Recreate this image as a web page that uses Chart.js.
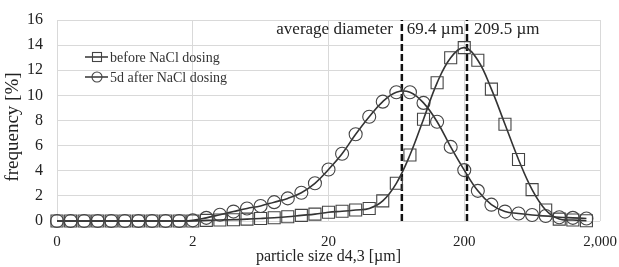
<!DOCTYPE html>
<html>
<head>
<meta charset="utf-8">
<script src="https://cdn.jsdelivr.net/npm/chart.js@4/dist/chart.umd.min.js"></script>
<style>
  html, body { margin: 0; padding: 0; background: #fff; }
  #wrap { width: 619px; height: 267px; position: relative; }
</style>
</head>
<body>
<div id="wrap"><canvas id="chart"></canvas></div>
<script>
// particle sizes (µm), 10 log steps per decade starting at 0.2
const sizes = [
  0.2, 0.252, 0.317, 0.399, 0.502, 0.632, 0.796, 1.002, 1.262, 1.589,
  2.0, 2.518, 3.17, 3.99, 5.02, 6.32, 7.96, 10.02, 12.62, 15.89,
  20.0, 25.18, 31.7, 39.9, 50.2, 63.2, 79.6, 100.2, 126.2, 158.9,
  200, 251.8, 317, 399, 502, 632, 796, 1002, 1262, 1589
];
const beforeDosing = [
  0, 0, 0, 0, 0, 0, 0, 0, 0, 0,
  0, 0.05, 0.08, 0.1, 0.15, 0.2, 0.26, 0.34, 0.45, 0.55,
  0.7, 0.78, 0.88, 1.0, 1.6, 3.0, 5.25, 8.1, 11.0, 13.0,
  13.8, 12.8, 10.5, 7.7, 4.9, 2.5, 0.88, 0.15, 0.08, 0.02
];
const afterDosing = [
  0, 0, 0, 0, 0, 0, 0, 0, 0, 0,
  0.05, 0.25, 0.5, 0.75, 1.0, 1.2, 1.5, 1.8, 2.25, 3.0,
  4.1, 5.35, 6.9, 8.3, 9.5, 10.25, 10.25, 9.4, 7.9, 5.9,
  4.05, 2.4, 1.3, 0.75, 0.6, 0.48, 0.4, 0.3, 0.25, 0.2
];
const seriesNames = ['before NaCl dosing', '5d after NaCl dosing'];
const avgDiameters = [69.4, 209.5];
const avgLabels = ['69.4 µm', '209.5 µm'];
const xTicks = [0.2, 2, 20, 200, 2000];
const xTickLabels = ['0', '2', '20', '200', '2,000'];

const INK = '#333';
const TEXT = '#222';
const SERIF = '"Liberation Serif", "DejaVu Serif", serif';

function toPoints(ys) {
  return sizes.map((x, i) => ({ x, y: ys[i] }));
}

function seriesStyle(marker, radius) {
  return {
    borderColor: INK,
    borderWidth: 1.6,
    backgroundColor: 'rgba(255,255,255,0)',
    pointStyle: marker,
    pointRadius: radius,
    pointBorderColor: '#444',
    pointBorderWidth: 1.1,
    pointBackgroundColor: 'rgba(255,255,255,0)',
    tension: 0.4,
    fill: false,
    clip: false,
  };
}

const datasets = [
  { label: seriesNames[0], data: toPoints(beforeDosing), ...seriesStyle('rect', 8.5) },
  { label: seriesNames[1], data: toPoints(afterDosing), ...seriesStyle('circle', 6.5) },
];
avgDiameters.forEach(d => {
  datasets.push({
    label: '',
    data: [{ x: d, y: 0 }, { x: d, y: 16 }],
    borderColor: '#111',
    borderWidth: 2.5,
    borderDash: [7, 3],
    pointRadius: 0,
    tension: 0,
    fill: false,
  });
});

// legend drawn inside the plot, the "average diameter" labels, y title
const overlay = {
  id: 'overlay',
  afterDatasetsDraw(chart) {
    const { ctx, scales: { x } } = chart;
    ctx.save();
    ctx.fillStyle = TEXT;
    ctx.textBaseline = 'middle';

    // average diameter labels
    ctx.font = '17px ' + SERIF;
    const x1 = x.getPixelForValue(avgDiameters[0]);
    const x2 = x.getPixelForValue(avgDiameters[1]);
    const ty = 30;
    ctx.textAlign = 'right';
    ctx.fillText('average diameter', x1 - 9, ty);
    ctx.textAlign = 'left';
    ctx.fillText(avgLabels[0], x1 + 5, ty);
    ctx.fillText(avgLabels[1], x2 + 7, ty);

    // legend
    ctx.font = '14px ' + SERIF;
    const markers = ['rect', 'circle'];
    [57, 77].forEach((ly, i) => {
      ctx.strokeStyle = INK;
      ctx.lineWidth = 1.5;
      ctx.beginPath();
      ctx.moveTo(85, ly);
      ctx.lineTo(108, ly);
      ctx.stroke();
      ctx.lineWidth = 1.1;
      ctx.strokeStyle = '#444';
      if (markers[i] === 'rect') {
        ctx.strokeRect(92.5, ly - 4.5, 9, 9);
      } else {
        ctx.beginPath();
        ctx.arc(97, ly, 5, 0, Math.PI * 2);
        ctx.stroke();
      }
      ctx.fillStyle = '#333';
      ctx.textAlign = 'left';
      ctx.fillText(seriesNames[i], 110, ly + 1);
    });

    // y axis title
    ctx.fillStyle = TEXT;
    ctx.font = '19px ' + SERIF;
    ctx.translate(13, 127);
    ctx.rotate(-Math.PI / 2);
    ctx.textAlign = 'center';
    ctx.fillText('frequency [%]', 0, 0);
    ctx.restore();
  },
};

new Chart(document.getElementById('chart'), {
  type: 'line',
  data: { datasets },
  plugins: [overlay],
  options: {
    responsive: true,
    maintainAspectRatio: false,
    animation: false,
    layout: { padding: { left: 0, right: 19, top: 20, bottom: 0 } },
    plugins: { legend: { display: false }, tooltip: { enabled: false } },
    scales: {
      x: {
        type: 'logarithmic',
        min: 0.2,
        max: 2000,
        afterBuildTicks(scale) { scale.ticks = xTicks.map(v => ({ value: v })); },
        afterFit(scale) {
          scale.height = 46;
          scale.paddingLeft = 0;
          scale.paddingRight = 0;
        },
        grid: { color: '#d9d9d9', drawTicks: false },
        border: { display: false },
        ticks: {
          color: TEXT,
          font: { family: SERIF, size: 15 },
          padding: 12,
          maxRotation: 0,
          autoSkip: false,
          callback: (v, i) => xTickLabels[i],
        },
        title: {
          display: true,
          text: 'particle size d4,3 [µm]',
          color: TEXT,
          font: { family: SERIF, size: 16 },
          padding: { top: 0, bottom: 1 },
        },
      },
      y: {
        min: 0,
        max: 16,
        afterFit(scale) {
          scale.width = 57;
          scale.paddingTop = 0;
          scale.paddingBottom = 0;
        },
        grid: { color: '#d9d9d9', drawTicks: false },
        border: { display: false },
        ticks: {
          stepSize: 2,
          color: TEXT,
          font: { family: SERIF, size: 16 },
          padding: 14,
        },
      },
    },
  },
});
</script>
</body>
</html>
